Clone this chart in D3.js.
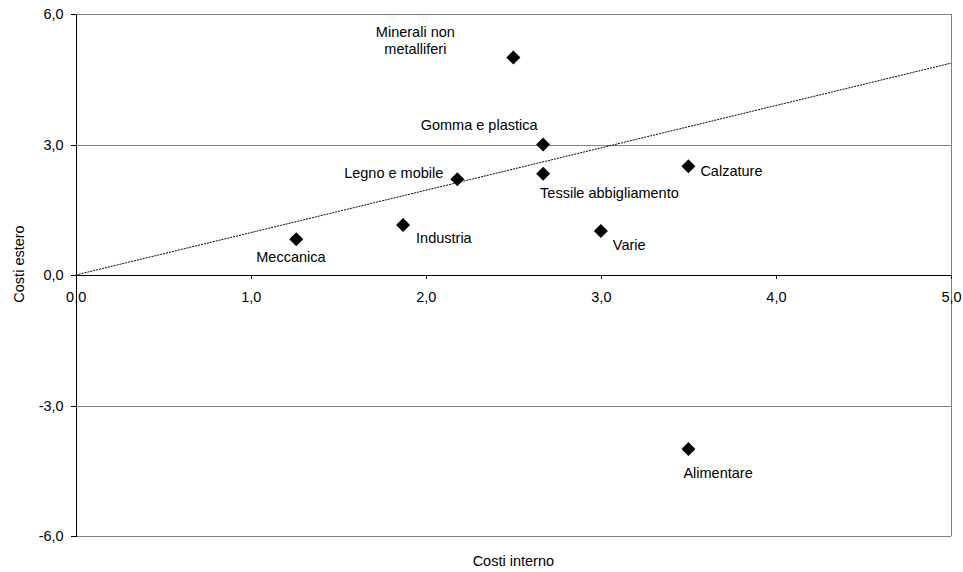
<!DOCTYPE html>
<html>
<head>
<meta charset="utf-8">
<script src="https://cdn.jsdelivr.net/npm/d3@7"></script>
<style>
  body { margin: 0; background: #fff; }
  svg { display: block; font-family: Arial, 'Liberation Sans', sans-serif; }
  .axis text { font-size: 14.5px; fill: #000; }
  .axis path, .axis line { stroke: #000; shape-rendering: crispEdges; }
  .grid line { stroke: #808080; shape-rendering: crispEdges; }
  .label { font-size: 14.5px; fill: #000; }
</style>
</head>
<body>
<svg id="svg" width="963" height="572"></svg>
<script>
const categories = ['Minerali non metalliferi', 'Gomma e plastica', 'Tessile abbigliamento', 'Legno e mobile',
  'Calzature', 'Meccanica', 'Industria', 'Varie', 'Alimentare'];
const costiInterno = [2.5, 2.67, 2.67, 2.18, 3.5, 1.26, 1.87, 3.0, 3.5];
const costiEstero = [5.0, 3.0, 2.33, 2.2, 2.5, 0.82, 1.15, 1.01, -4.0];
const xTicks = [0, 1, 2, 3, 4, 5];
const yTicks = [-6, -3, 0, 3, 6];
const trendX = [0, 5];
const trendY = [0, 4.87];

// label placement next to each marker (px offsets, anchor)
const labelPos = [
  { dx: -98, dy: [-20.5, -3.3], anchor: 'middle', lines: ['Minerali non', 'metalliferi'] },
  { dx: -64, dy: [-15], anchor: 'middle' },
  { dx: -3, dy: [24.5], anchor: 'start' },
  { dx: -14, dy: [-1.5], anchor: 'end' },
  { dx: 12, dy: [10], anchor: 'start' },
  { dx: -40, dy: [22.5], anchor: 'start' },
  { dx: 13, dy: [18], anchor: 'start' },
  { dx: 12, dy: [19], anchor: 'start' },
  { dx: -5, dy: [29], anchor: 'start' }
];

const svg = d3.select('#svg');
const margin = { top: 14, right: 12, bottom: 36, left: 75.7 };
const width = 963 - margin.left - margin.right;
const height = 572 - margin.top - margin.bottom;

const g = svg.append('g').attr('transform', `translate(${margin.left},${margin.top})`);

const x = d3.scaleLinear().domain([0, 5]).range([0, width]);
const y = d3.scaleLinear().domain([-6, 6]).range([height, 0]);

const locale = d3.formatLocale({ decimal: ',', thousands: '.', grouping: [3], currency: ['', ''], minus: '-' });
const fmt = locale.format('.1f');

// gridlines + right border
const grid = g.append('g').classed('grid', true);
grid.selectAll('line.h')
  .data(yTicks.filter(d => d !== 0))
  .enter()
  .append('line')
  .attr('x1', 0)
  .attr('x2', width)
  .attr('y1', d => Math.round(y(d)) + 0.5)
  .attr('y2', d => Math.round(y(d)) + 0.5);
grid.append('line')
  .attr('x1', x(5))
  .attr('x2', x(5))
  .attr('y1', 0)
  .attr('y2', height);

// trend line
const line = d3.line().x(d => x(d[0])).y(d => y(d[1]));
g.append('path')
  .datum(trendX.map((d, i) => [d, trendY[i]]))
  .attr('d', line)
  .style('fill', 'none')
  .style('stroke', '#000')
  .style('stroke-width', 1)
  .style('stroke-dasharray', '2,1');

// axes
const yAxis = g.append('g')
  .classed('axis', true)
  .call(d3.axisLeft(y).tickValues(yTicks).tickSize(5).tickSizeOuter(0).tickPadding(7).tickFormat(fmt));

const xAxis = g.append('g')
  .classed('axis', true)
  .attr('transform', `translate(0,${y(0)})`)
  .call(d3.axisBottom(x).tickValues(xTicks).tickSize(4).tickSizeOuter(0).tickFormat(fmt));
xAxis.selectAll('text').attr('y', 27).attr('dy', 0);

// markers
const diamond = d3.symbol().type(d3.symbolSquare).size(98);
g.append('g')
  .selectAll('path')
  .data(categories)
  .enter()
  .append('path')
  .attr('d', diamond)
  .attr('transform', (d, i) => `translate(${x(costiInterno[i])},${y(costiEstero[i])}) rotate(45)`)
  .style('fill', '#000');

// labels
categories.forEach((c, i) => {
  const p = labelPos[i];
  const lines = p.lines || [c];
  lines.forEach((t, k) => {
    g.append('text')
      .classed('label', true)
      .attr('x', x(costiInterno[i]) + p.dx)
      .attr('y', y(costiEstero[i]) + p.dy[k])
      .attr('text-anchor', p.anchor)
      .text(t);
  });
});

// axis titles
svg.append('text')
  .classed('label', true)
  .attr('text-anchor', 'middle')
  .attr('x', margin.left + width / 2)
  .attr('y', 566)
  .text('Costi interno');

svg.append('text')
  .classed('label', true)
  .attr('text-anchor', 'middle')
  .attr('transform', 'translate(24.3,264) rotate(-90)')
  .text('Costi estero');
</script>
</body>
</html>
